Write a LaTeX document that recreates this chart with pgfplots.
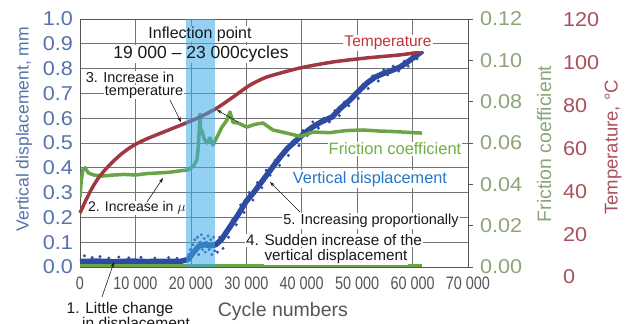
\documentclass[border=0pt]{standalone}
\usepackage{fontspec}
\setmainfont{Liberation Sans}
\newfontfamily\widefont[FakeStretch=1.08]{Liberation Sans}
\newfontfamily\narrowfont[FakeStretch=0.8]{Liberation Sans}
\usepackage{pgfplots}
\pgfplotsset{compat=1.18}
\usetikzlibrary{arrows.meta}

\definecolor{dispblue}{RGB}{85,115,170}
\definecolor{datablue}{RGB}{45,75,160}
\definecolor{annblue}{RGB}{40,120,200}
\definecolor{fricaxis}{RGB}{140,165,120}
\definecolor{fricdata}{RGB}{105,165,70}
\definecolor{anngreen}{RGB}{115,175,65}
\definecolor{tempaxis}{RGB}{170,80,90}
\definecolor{tempdata}{RGB}{160,55,65}
\definecolor{annred}{RGB}{195,50,60}
\definecolor{bandblue}{RGB}{60,170,230}
\definecolor{gridgray}{RGB}{115,115,115}
\definecolor{framegray}{RGB}{85,85,85}
\definecolor{tickgray}{RGB}{85,85,85}
\definecolor{anntext}{RGB}{25,25,25}

\newcommand\fs[1]{\fontsize{#1}{#1}\selectfont}

\newcommand\annotnodes{%
  \node[annot,font=\fs{16}] at (200,290) {Inflection point};
  \node[annot,font=\fs{17.5}] at (201,270) {19 000 – 23 000cycles};
  \node[annot,font=\fs{14.5}] at (130,247) {3. Increase in};
  \node[annot,font=\fs{14.5}] at (144,232) {temperature};
  \node[annot,font=\fs{15.5},text=annred] at (388,281) {Temperature};
  \node[annot,font=\fs{16.5},text=anngreen] at (395,175) {Friction coefficient};
  \node[annot,font=\fs{16.3},text=annblue] at (370,145) {Vertical displacement};
  \node[annot,font=\fs{14.5}] at (371,103) {5. Increasing proportionally};
  \node[annot,font=\fs{15.3}] at (334,83.5) {4. Sudden increase of the};
  \node[annot,font=\fs{15.3}] at (336,67.5) {vertical displacement};
  \node[annot,font=\fs{14}] at (137,116) {2. Increase in $\mu$};
  \node[annot,font=\fs{15.5}] at (120,15) {1. Little change};
  \node[annot,font=\fs{15.5}] at (136,0) {in displacement};
}

\begin{document}
\begin{tikzpicture}[x=1pt,y=1pt]

% ---------------- main axis: vertical displacement ----------------
\begin{axis}[
  at={(80pt,57pt)}, anchor=south west, scale only axis,
  width=388pt, height=248pt,
  xmin=0, xmax=70000, ymin=0, ymax=1,
  scaled x ticks=false, scaled y ticks=false,
  xtick={0,10000,20000,30000,40000,50000,60000,70000},
  xticklabels={0,10 000,20 000,30 000,40 000,50 000,60 000,70 000},
  ytick={0,0.1,0.2,0.3,0.4,0.5,0.6,0.7,0.8,0.9,1.0},
  yticklabels={0.0,0.1,0.2,0.3,0.4,0.5,0.6,0.7,0.8,0.9,1.0},
  grid=major,
  major grid style={draw=gridgray, line width=0.6pt},
  axis line style={draw=framegray, line width=0.9pt},
  major tick length=0pt,
  /pgf/number format/assume math mode=true,
  xticklabel style={font=\narrowfont\fs{18}, text=tickgray, anchor=north, inner sep=0pt, yshift=-10pt},
  yticklabel style={font=\widefont\fs{20}, text=dispblue, anchor=east, inner sep=0pt, xshift=-7pt},
  ylabel={Vertical displacement, mm},
  ylabel style={font=\fs{17.5}, text=dispblue, at={(axis description cs:-0.144,0.556)}, anchor=center},
  xlabel={Cycle numbers},
  xlabel style={font=\fs{19.5}, text=tickgray, at={(axis description cs:0.523,-0.181)}, anchor=center},
]
\addplot[datablue, line width=5.5pt, line join=round, no markers] coordinates {
(0,0.022) (3000,0.024) (6000,0.021) (9000,0.024) (12000,0.022) (15000,0.023)
(18000,0.022) (19500,0.03) (20500,0.06) (21500,0.085) (22500,0.09) (23500,0.085)
(24500,0.09) (25500,0.11) (27000,0.16) (28500,0.21) (30000,0.265) (31500,0.305)
(33000,0.35) (34500,0.395) (36000,0.44) (37500,0.48) (39000,0.51) (40500,0.54)
(42000,0.565) (43500,0.585) (45500,0.605) (47000,0.64) (48700,0.673) (50300,0.71)
(51800,0.742) (53200,0.765) (54700,0.78) (56200,0.792) (57700,0.806) (59000,0.825)
(60100,0.843) (61300,0.863) (61800,0.872)
};
\addplot[only marks, mark=*, mark size=1.3pt, datablue] coordinates {
(800,0.045) (2200,0.038) (3600,0.042) (5200,0.036) (7000,0.04) (8800,0.037)
(11000,0.039) (13500,0.036) (16000,0.038) (17500,0.035) (1500,0.01) (6500,0.008)
(10500,0.01) (14500,0.009)
(19300,0.035) (19600,0.05) (19900,0.07) (20200,0.045) (20400,0.09) (20700,0.11)
(20900,0.07) (21200,0.12) (21400,0.05) (21700,0.1) (21900,0.13) (22100,0.07)
(22400,0.115) (22600,0.06) (22800,0.1) (23100,0.125) (23300,0.07) (23600,0.11)
(23800,0.05) (24100,0.12) (24300,0.065)
(24800,0.06) (25200,0.12) (25800,0.075) (26300,0.14) (26800,0.12) (27500,0.19)
(28200,0.17) (29000,0.25) (29600,0.22) (30500,0.3) (31200,0.27) (32000,0.34)
(32800,0.32) (33600,0.39) (34300,0.37) (35200,0.43) (36000,0.41) (36800,0.47)
(37600,0.45) (38500,0.51) (39500,0.49) (40200,0.55) (41000,0.53) (42000,0.585)
(43000,0.56) (44000,0.6) (45000,0.585) (46000,0.63) (46800,0.61) (47700,0.665)
(48500,0.65) (49500,0.7) (50200,0.68) (51000,0.735) (52000,0.72) (52800,0.77)
(53800,0.75) (54800,0.795) (55500,0.775) (56500,0.81) (57500,0.79) (58500,0.83)
(59200,0.81) (60000,0.855) (60800,0.84) (61500,0.88)
};
\end{axis}

% ---------------- friction coefficient axis ----------------
\begin{axis}[
  at={(80pt,57pt)}, anchor=south west, scale only axis,
  width=388pt, height=248pt,
  xmin=0, xmax=70000, ymin=0, ymax=0.12,
  scaled x ticks=false, scaled y ticks=false,
  axis x line=none, axis y line*=right,
  axis line style={draw=framegray, line width=0.9pt},
  ytick={0,0.02,0.04,0.06,0.08,0.10,0.12},
  yticklabels={0.00,0.02,0.04,0.06,0.08,0.10,0.12},
  tick align=outside, major tick length=5pt,
  tick style={draw=framegray, line width=0.8pt},
  /pgf/number format/assume math mode=true,
  yticklabel style={font=\widefont\fs{20}, text=fricaxis, anchor=west, inner sep=0pt, xshift=7pt},
  ylabel={Friction coefficient},
  ylabel style={font=\fs{19.5}, text=fricaxis, at={(axis description cs:1.196,0.496)}, anchor=center, rotate=0},
]
\addplot[fricdata, line width=3.5pt, line join=round, no markers] coordinates {
(0,0.034) (200,0.041) (500,0.047) (900,0.048) (1500,0.0455) (2500,0.0445)
(4000,0.044) (6000,0.0445) (8000,0.0448) (10000,0.0445) (12000,0.0452)
(14000,0.0455) (16000,0.0458) (18000,0.0465) (19500,0.047) (20500,0.049)
(21100,0.052) (21300,0.057) (21500,0.065) (21650,0.074) (21800,0.065)
(22000,0.066) (22400,0.062) (22900,0.060) (23450,0.0624) (24000,0.059)
(24700,0.0628) (25600,0.0677) (26500,0.071) (27060,0.075) (27600,0.070)
(28500,0.0697) (30100,0.0677) (31500,0.069) (33000,0.0697) (34800,0.0663)
(37300,0.0648) (39700,0.0632) (42000,0.0653) (45000,0.065) (48000,0.066)
(51000,0.0663) (54000,0.0658) (57000,0.0655) (60000,0.065) (61700,0.0648)
};
\addplot[fricdata, line width=3pt, no markers] coordinates {(0,0.0008) (61700,0.0008)};
\end{axis}

% ---------------- temperature axis ----------------
\begin{axis}[
  at={(80pt,47pt)}, anchor=south west, scale only axis,
  width=388pt, height=257pt,
  xmin=0, xmax=70000, ymin=0, ymax=120,
  scaled x ticks=false, scaled y ticks=false,
  clip=false,
  axis x line=none, axis y line*=right,
  y axis line style={draw=none},
  ytick={0,20,40,60,80,100,120},
  major tick length=0pt,
  /pgf/number format/assume math mode=true,
  yticklabel style={font=\widefont\fs{20}, text=tempaxis, anchor=west, inner sep=0pt, xshift=95pt},
  ylabel={Temperature, \textdegree C},
  ylabel style={font=\fs{18.5}, text=tempaxis, at={(axis description cs:1.374,0.504)}, anchor=center, rotate=0},
]
\addplot[tempdata, line width=3.5pt, line join=round, no markers, smooth, tension=0.4] coordinates {
(0,29.9) (1000,35.5) (1985,40.6) (3200,45.8) (4510,50.0) (6000,54.0) (7400,57.3)
(8800,60.0) (10100,62.1) (12300,64.8) (14610,67.2) (19120,71.9) (21650,74.7)
(24720,78.9) (27600,84.0) (30670,89.6) (33740,93.4) (39690,97.6) (45640,100.4)
(51780,102.3) (57730,103.7) (61700,105.1)
};
\end{axis}

% white boxes of the annotations
\begin{scope}[annot/.style={fill=white, text opacity=0, inner sep=1pt}]
\annotnodes
\end{scope}

% ---------------- inflection band (on top, translucent) ----------------
\begin{axis}[
  at={(80pt,57pt)}, anchor=south west, scale only axis,
  width=388pt, height=248pt,
  xmin=0, xmax=70000, ymin=0, ymax=1, hide axis,
]
\addplot[draw=none, fill=bandblue, fill opacity=0.55, no markers] coordinates {
(19100,0) (19100,1) (24300,1) (24300,0)
};
\end{axis}

% annotation texts
\begin{scope}[annot/.style={inner sep=1pt, text=anntext}]
\annotnodes
\end{scope}

\begin{scope}[line width=0.6pt, draw=anntext, -{Stealth[length=5pt,width=3.5pt]}]
\draw (102,27) -- (114,62);
\draw (147,122) -- (163,146);
\draw (170,224) -- (181,202);
\draw (238,202) -- (217,214);
\draw (300,112) -- (270,142);
\end{scope}

\pgfresetboundingbox
\path[use as bounding box] (0,0) rectangle (632,324);
\end{tikzpicture}
\end{document}
